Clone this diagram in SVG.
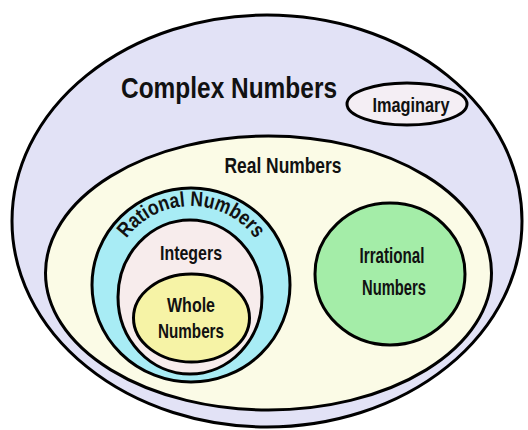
<svg xmlns="http://www.w3.org/2000/svg" width="528" height="430" viewBox="0 0 528 430">
<style>
.s{stroke:#000;stroke-width:3}
.t{font-family:"Liberation Sans Narrow","Liberation Sans",Arial,sans-serif;fill:#111;text-anchor:middle;font-weight:bold}
</style>
<defs>
<path id="ratArc" d="M 111,286 A 80,80 0 0 1 271,286"/>
</defs>
<rect width="528" height="430" fill="#ffffff"/>
<g id="complex">
<ellipse class="s" cx="267" cy="221" rx="255" ry="206" fill="#e2e2f6"/>
<text class="t" x="229" y="98" font-size="30" textLength="216" lengthAdjust="spacingAndGlyphs">Complex Numbers</text>
</g>
<g id="imaginary">
<ellipse class="s" cx="407" cy="104" rx="60" ry="21" fill="#f4eef4"/>
<text class="t" x="411" y="112" font-size="20" font-weight="normal" textLength="77" lengthAdjust="spacingAndGlyphs">Imaginary</text>
</g>
<g id="real">
<ellipse class="s" cx="268.5" cy="273" rx="223" ry="137" fill="#fbfbe6"/>
<text class="t" x="283" y="173" font-size="22" textLength="117" lengthAdjust="spacingAndGlyphs">Real Numbers</text>
</g>
<g id="rational">
<ellipse class="s" cx="191" cy="285" rx="99" ry="97" fill="#a8ecf5"/>
<text class="t" font-size="21" font-weight="normal"><textPath href="#ratArc" startOffset="50%" textLength="150" lengthAdjust="spacingAndGlyphs">Rational Numbers</textPath></text>
</g>
<g id="integers">
<ellipse class="s" cx="190" cy="297" rx="72" ry="77" fill="#f7ecec"/>
<text class="t" x="191" y="260" font-size="21" textLength="62" lengthAdjust="spacingAndGlyphs">Integers</text>
</g>
<g id="whole">
<ellipse class="s" cx="191.5" cy="318" rx="58" ry="44" fill="#f6f3a6"/>
<text class="t" x="191" y="312" font-size="21" textLength="48" lengthAdjust="spacingAndGlyphs">Whole</text>
<text class="t" x="191" y="338" font-size="21" textLength="66" lengthAdjust="spacingAndGlyphs">Numbers</text>
</g>
<g id="irrational">
<ellipse class="s" cx="390" cy="274" rx="75" ry="71" fill="#a4eda8"/>
<text class="t" x="392" y="263" font-size="22" textLength="65" lengthAdjust="spacingAndGlyphs">Irrational</text>
<text class="t" x="394" y="295" font-size="22" textLength="64" lengthAdjust="spacingAndGlyphs">Numbers</text>
</g>
<g id="connectors"></g>
</svg>
